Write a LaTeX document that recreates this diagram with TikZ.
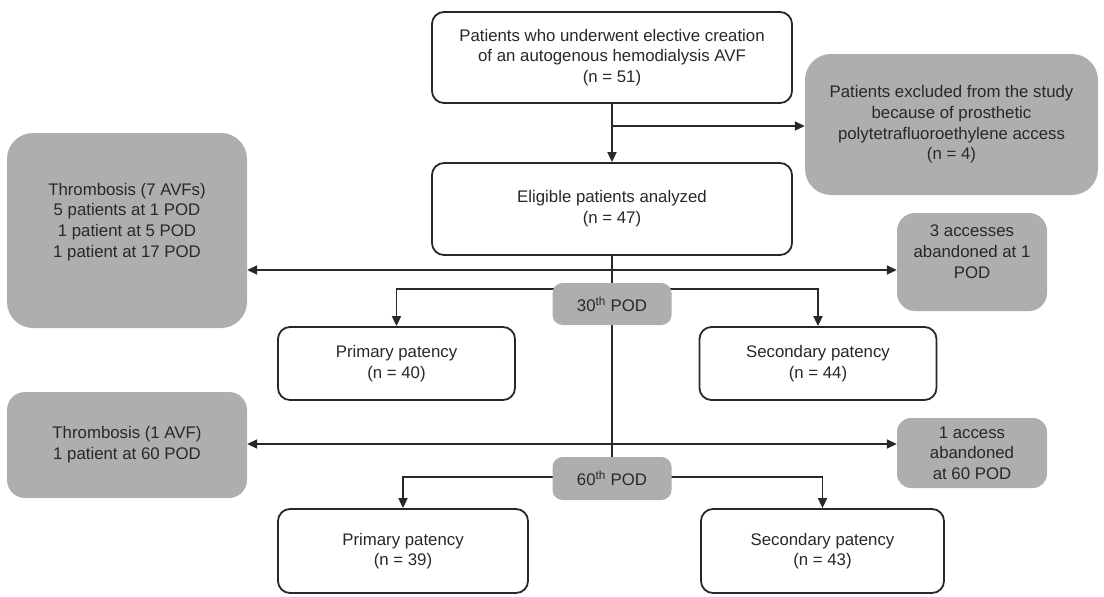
\documentclass[tikz,border=0pt]{standalone}
\usepackage{fontspec}
\setmainfont{Liberation Sans}
\usetikzlibrary{arrows.meta,backgrounds}
\definecolor{boxgray}{RGB}{174,174,174}
\definecolor{ink}{RGB}{40,40,40}
\newcommand\nodefont{\fontsize{16.8}{20.7}\selectfont}
\begin{document}
\begin{tikzpicture}[x=1pt,y=-1pt,
  every node/.style={font=\nodefont, text=ink, align=center, inner sep=0pt},
  wbox/.style={draw=ink, line width=1.8pt, rounded corners=12pt, fill=white},
  gbox/.style={fill=boxgray, rounded corners=14pt},
  gbig/.style={fill=boxgray, rounded corners=26pt},
  conn/.style={draw=ink, line width=1.8pt},
  arr/.style={conn, -{Triangle[length=10pt,width=9pt]}},
  arrb/.style={conn, {Triangle[length=10pt,width=9pt]}-{Triangle[length=10pt,width=9pt]}}]
\useasboundingbox (0,0) rectangle (1104,597);

\node[wbox, minimum width=360pt, minimum height=91pt] (b1) at (612,57.5)
  {Patients who underwent elective creation\\of an autogenous hemodialysis AVF\\(n = 51)};
\node[gbig, minimum width=293pt, minimum height=141pt] (excl) at (951.5,124.5)
  {Patients excluded from the study\\because of prosthetic\\polytetrafluoroethylene access\\(n = 4)};
\node[wbox, minimum width=360pt, minimum height=92pt] (b2) at (612,209)
  {Eligible patients analyzed\\(n = 47)};
\node[gbig, minimum width=240pt, minimum height=195pt] (thr1) at (127,230.5)
  {Thrombosis (7 AVFs)\\5 patients at 1 POD\\1 patient at 5 POD\\1 patient at 17 POD\\\mbox{}};
\node[gbox, rounded corners=18pt, minimum width=150pt, minimum height=98pt] (acc3) at (972,262)
  {3 accesses\\abandoned at 1\\POD\\\mbox{}};
\node[gbox, rounded corners=10pt, minimum width=119pt, minimum height=42pt] (pod30) at (612,304)
  {30\textsuperscript{th} POD};
\node[wbox, minimum width=237pt, minimum height=73pt] (pp1) at (396.5,363.5)
  {Primary patency\\(n = 40)};
\node[wbox, minimum width=237pt, minimum height=73pt] (sp1) at (818,363.5)
  {Secondary patency\\(n = 44)};
\node[gbox, rounded corners=18pt, minimum width=240pt, minimum height=106pt] (thr2) at (127,445)
  {Thrombosis (1 AVF)\\1 patient at 60 POD};
\node[gbox, rounded corners=14pt, minimum width=150pt, minimum height=70pt] (acc1) at (972,453)
  {1 access\\abandoned\\at 60 POD};
\node[gbox, rounded corners=10pt, minimum width=119pt, minimum height=43pt] (pod60) at (612,478.5)
  {60\textsuperscript{th} POD};
\node[wbox, minimum width=250pt, minimum height=84pt] (pp2) at (403,551)
  {Primary patency\\(n = 39)};
\node[wbox, minimum width=243pt, minimum height=84pt] (sp2) at (822.5,551)
  {Secondary patency\\(n = 43)};

\coordinate (j1) at (612,126);
\coordinate (h1) at (612,270);
\coordinate (s1) at (612,289);
\coordinate (h2) at (612,444);
\coordinate (s2) at (612,477);

\begin{scope}[on background layer]
  \draw[arr] (b1.south) -- (b2.north);
  \draw[arr] (j1) -- (j1 -| excl.west);
  \draw[conn] (b2.south) -- (pod60.north);
  \draw[arrb] (h1 -| thr1.east) -- (h1 -| acc3.west);
  \draw[arr] (s1) -| (pp1.north);
  \draw[arr] (s1) -| (sp1.north);
  \draw[arrb] (h2 -| thr2.east) -- (h2 -| acc1.west);
  \draw[arr] (s2) -| (pp2.north);
  \draw[arr] (s2) -| (sp2.north);
\end{scope}
\end{tikzpicture}
\end{document}
